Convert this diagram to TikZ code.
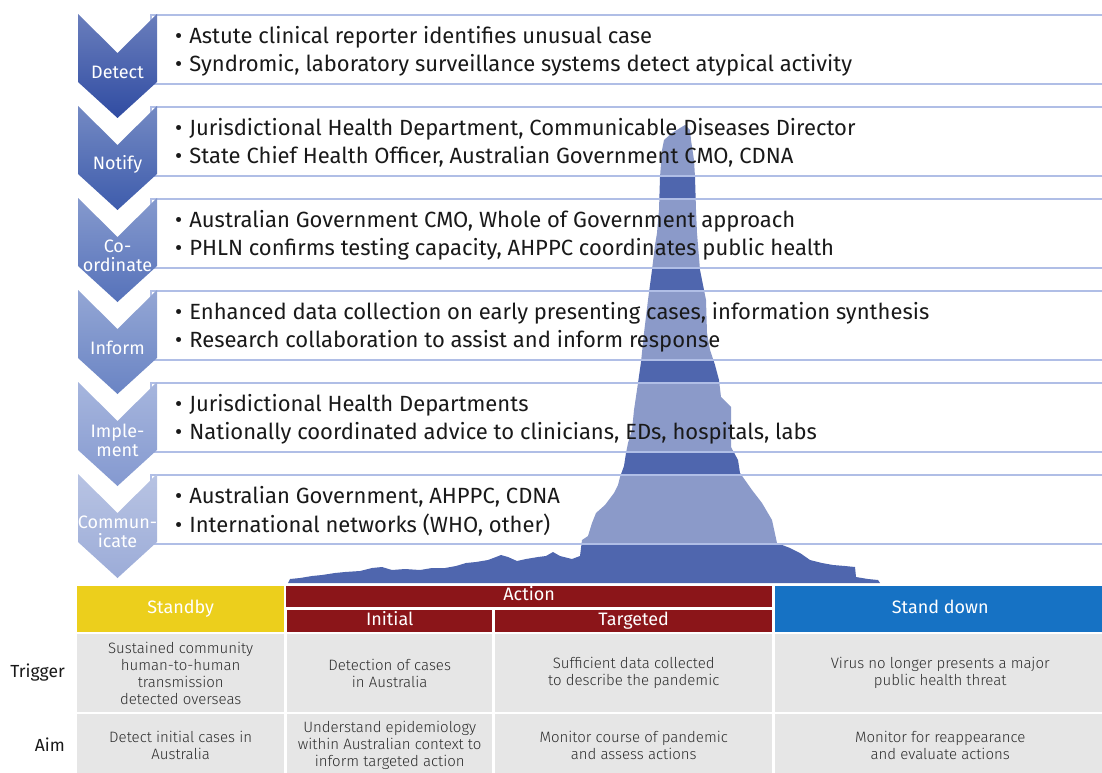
\documentclass[tikz,border=0pt]{standalone}
\usepackage{fontspec}
\setmainfont{Fira Sans}
\newfontfamily\lightfont{Fira Sans Light}
\definecolor{white}{RGB}{255,255,255}
\definecolor{ink}{RGB}{25,25,25}
\definecolor{cell_ink}{RGB}{45,45,45}
\definecolor{cell_grey}{RGB}{230,230,230}
\definecolor{box_line}{RGB}{176,190,230}
\definecolor{curve_blue}{RGB}{79,102,174}
\definecolor{standby_yellow}{RGB}{236,207,28}
\definecolor{action_red}{RGB}{139,21,25}
\definecolor{standdown_blue}{RGB}{22,114,196}
\definecolor{chev_0}{RGB}{48,76,162}
\definecolor{chev_1}{RGB}{62,92,172}
\definecolor{chev_2}{RGB}{86,114,186}
\definecolor{chev_3}{RGB}{106,132,196}
\definecolor{chev_4}{RGB}{132,153,208}
\definecolor{chev_5}{RGB}{156,172,216}

\tikzset{
	infobox/.style={draw=box_line,line width=1.6pt,fill=white,fill opacity=0.34,
		anchor=north west,inner sep=0,minimum width=980pt,minimum height=69pt},
	bullet/.style={anchor=west,inner sep=0,text=ink,font=\fontsize{22}{22}\selectfont},
	steplabel/.style={text=white,align=center,inner sep=0,font=\fontsize{18}{19}\selectfont},
	head/.style={anchor=north west,inner sep=0,text=white,text height=0.82em,text depth=0pt,
		font=\fontsize{18}{18}\selectfont},
	cell/.style={anchor=north west,inner sep=0,fill=cell_grey,text=cell_ink,align=center,
		font=\lightfont\fontsize{15}{17}\selectfont},
	rowlabel/.style={anchor=east,inner sep=0,text=ink,font=\fontsize{17.5}{18}\selectfont}
}

\begin{document}
\begin{tikzpicture}[x=1pt,y=-1pt]
	\useasboundingbox (0,0) rectangle (1102,773);

	% epidemic curve behind the boxes
	\fill[curve_blue] (288,583) -- (290,579) -- (300,578) -- (312,576) -- (322,575) -- (335,573)
		-- (345,572) -- (360,571) -- (372,568) -- (382,567) -- (392,570) -- (405,569) -- (420,570)
		-- (432,568) -- (445,568) -- (456,566) -- (466,563) -- (476,562) -- (488,560) -- (496,557)
		-- (501,555) -- (508,557) -- (517,561) -- (526,559) -- (538,557) -- (546,556) -- (553,552)
		-- (560,556) -- (572,559) -- (580,556) -- (582,540) -- (588,536) -- (592,523) -- (596,513)
		-- (605,505) -- (614,493) -- (618,485) -- (620,477) -- (624,466) -- (626,453) -- (628,443)
		-- (632,430) -- (634,410) -- (638,383) -- (641,362) -- (644,333) -- (648,300) -- (652,270)
		-- (655,245) -- (657,233) -- (659,210) -- (660,177) -- (662,150) -- (664,140) -- (672,133)
		-- (680,128) -- (685,125) -- (690,130) -- (691,140) -- (694,160) -- (695,177) -- (696,210)
		-- (697,233) -- (700,270) -- (706,300) -- (707,333) -- (710,350) -- (715,365) -- (719,380)
		-- (721,397) -- (731,407) -- (731,447) -- (738,460) -- (740,473) -- (752,490) -- (762,503)
		-- (772,520) -- (777,543) -- (790,548) -- (800,553) -- (810,560) -- (822,563) -- (833,565)
		-- (845,566) -- (855,567) -- (856,577) -- (868,579) -- (878,580) -- (880,583) -- cycle;

	% steps: box with two lines, then the chevron on its left
	\foreach \i/\lab/\one/\two in {
		0/Detect/{Astute clinical reporter identifies unusual case}/{Syndromic, laboratory surveillance systems detect atypical activity},
		1/Notify/{Jurisdictional Health Department, Communicable Diseases Director}/{State Chief Health Officer, Australian Government CMO, CDNA},
		2/{Co-\\ordinate}/{Australian Government CMO, Whole of Government approach}/{PHLN confirms testing capacity, AHPPC coordinates public health},
		3/Inform/{Enhanced data collection on early presenting cases, information synthesis}/{Research collaboration to assist and inform response},
		4/{Imple-\\ment}/{Jurisdictional Health Departments}/{Nationally coordinated advice to clinicians, EDs, hospitals, labs},
		5/{Commun-\\icate}/{Australian Government, AHPPC, CDNA}/{International networks (WHO, other)}}
	{
		\pgfmathsetmacro\ytop{14+92*\i}
		\node[infobox] (box\i) at (150,\ytop) {};
		\node[bullet] (first\i) at (175,\ytop+23) {\textbullet\hspace{7pt}\one};
		\node[bullet] (second\i) at (175,\ytop+51) {\textbullet\hspace{7pt}\two};
		\shade[top color=chev_\i!72!white,bottom color=chev_\i] (78,\ytop) -- (117.5,\ytop+39)
			-- (157,\ytop) -- (157,\ytop+68) -- (117.5,\ytop+104) -- (78,\ytop+68) -- cycle;
		\node[steplabel] (chev\i) at (117.5,\ytop+58) {\lab};
	}

	% phase headers
	\node[head,fill=standby_yellow,minimum width=207pt,minimum height=46pt] (standby) at (77,586) {Standby};
	\node[head,fill=action_red,minimum width=486pt,minimum height=21pt] (action) at (286,586) {Action};
	\node[head,fill=action_red,minimum width=205pt,minimum height=22pt] (initial) at (287,610) {Initial};
	\node[head,fill=action_red,minimum width=277pt,minimum height=22pt] (targeted) at (495,610) {Targeted};
	\node[head,fill=standdown_blue,minimum width=330pt,minimum height=46pt] (standdown) at (775,586) {Stand down};

	% trigger row
	\node[rowlabel] (trigger) at (65,673) {Trigger};
	\node[cell,minimum width=207pt,minimum height=78pt] (trig_standby) at (77,634)
		{Sustained community\\human-to-human\\transmission\\detected overseas};
	\node[cell,minimum width=205pt,minimum height=78pt] (trig_initial) at (287,634)
		{Detection of cases\\in Australia};
	\node[cell,minimum width=277pt,minimum height=78pt] (trig_targeted) at (495,634)
		{Sufficient data collected\\to describe the pandemic};
	\node[cell,minimum width=330pt,minimum height=78pt] (trig_standdown) at (775,634)
		{Virus no longer presents a major\\public health threat};

	% aim row
	\node[rowlabel] (aim) at (65,745) {Aim};
	\node[cell,minimum width=207pt,minimum height=62pt] (aim_standby) at (77,714)
		{Detect initial cases in\\Australia};
	\node[cell,minimum width=205pt,minimum height=62pt] (aim_initial) at (287,714)
		{Understand epidemiology\\within Australian context to\\inform targeted action};
	\node[cell,minimum width=277pt,minimum height=62pt] (aim_targeted) at (495,714)
		{Monitor course of pandemic\\and assess actions};
	\node[cell,minimum width=330pt,minimum height=62pt] (aim_standdown) at (775,714)
		{Monitor for reappearance\\and evaluate actions};
\end{tikzpicture}
\end{document}
